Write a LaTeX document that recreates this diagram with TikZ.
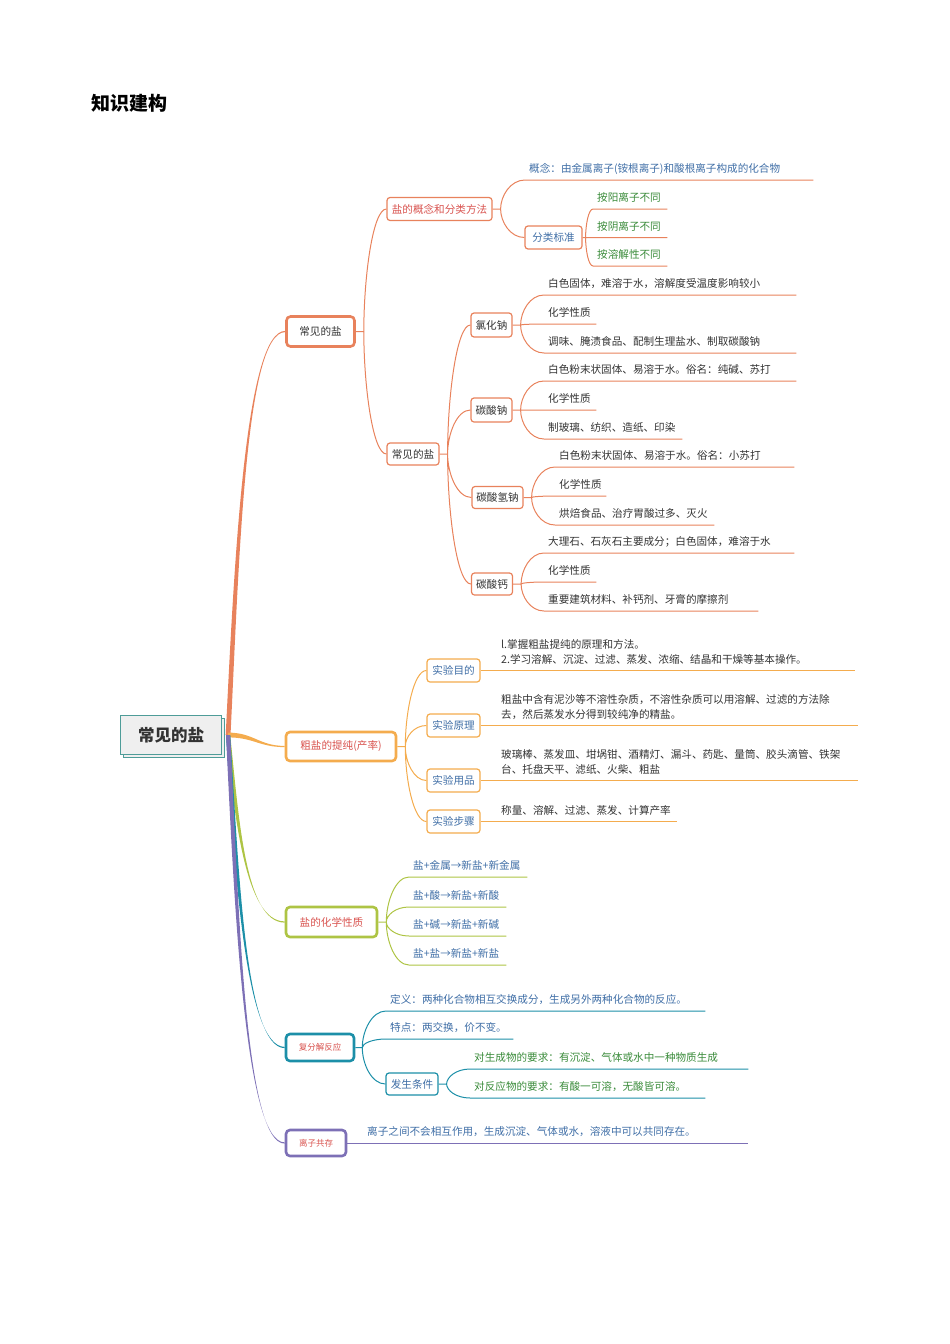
\documentclass[tikz,border=0pt]{standalone}
\usepackage{fontspec}
\setmainfont{Noto Sans CJK SC}
\usetikzlibrary{calc,backgrounds,shadows}
\definecolor{cSal}{HTML}{E8825C}
\definecolor{cOra}{HTML}{F4AC4E}
\definecolor{cGrn}{HTML}{AEC444}
\definecolor{cTea}{HTML}{1C8FA8}
\definecolor{cPur}{HTML}{7D70B6}
\definecolor{tBlue}{HTML}{3F6EA6}
\definecolor{tGreen}{HTML}{3A8B3A}
\definecolor{tRed}{HTML}{D9534F}
\definecolor{tDark}{HTML}{333333}
\definecolor{cRoot}{HTML}{4E9C98}
\definecolor{cRootFill}{HTML}{EFEFEF}
\newcommand\fsz[1]{\fontsize{#1}{15}\selectfont}
\begin{document}
\begin{tikzpicture}[x=1pt,y=-1pt,font=\fsz{10.6},
  lone/.style={draw=#1,line width=2.6pt,rounded corners=4pt,fill=white,inner sep=0pt},
  sbox/.style={draw=#1,line width=1.2pt,rounded corners=3pt,fill=white,inner sep=0pt},
  leaf/.style={anchor=south west,inner xsep=4pt,inner ysep=0pt,text depth=7pt,align=left,text width=#1},
  leaftwo/.style={leaf=#1,text depth=22pt},
  conn/.style={line width=1pt},
  brc/.style={to path={let \p1=(\tikztostart),\p2=(\tikztotarget) in
    .. controls (\x1,{\y1+0.45*(\y2-\y1)}) and ({\x2-0.6*(\x2-\x1)},\y2) .. (\tikztotarget)}},
  rootv/.style={to path={let \p1=(\tikztostart),\p2=(\tikztotarget) in
    (\x1-#1,\y1) .. controls ({\x1+0.15*(\x2-\x1)-#1},{\y1+0.43*(\y2-\y1)}) and ({\x1+0.3*(\x2-\x1)},\y2+0.6pt) .. (\x2,\y2+0.6pt)
    -- (\x2,\y2-0.6pt) .. controls ({\x1+0.3*(\x2-\x1)},\y2-0.6pt) and ({\x1+0.15*(\x2-\x1)+#1},{\y1+0.43*(\y2-\y1)}) .. (\x1+#1,\y1) -- cycle}},
  rooth/.style={to path={let \p1=(\tikztostart),\p2=(\tikztotarget) in
    (\x1,\y1+#1) .. controls ({\x1+0.45*(\x2-\x1)},\y1+#1) and ({\x1+0.55*(\x2-\x1)},\y2+0.6pt) .. (\x2,\y2+0.6pt)
    -- (\x2,\y2-0.6pt) .. controls ({\x1+0.55*(\x2-\x1)},\y2-0.6pt) and ({\x1+0.45*(\x2-\x1)},\y1-#1) .. (\x1,\y1-#1) -- cycle}}
]
\useasboundingbox (0,0) rectangle (950,1344);

% title
\node[anchor=west,font=\fsz{19}\bfseries,text=black,inner sep=0pt] (title) at (91,103) {知识建构};

% root
\node[draw=cRoot,line width=1.2pt,fill=cRootFill,minimum width=101pt,minimum height=39pt,inner sep=0pt,
      font=\fsz{16.5}\bfseries,text=tDark,copy shadow={shadow xshift=3pt,shadow yshift=-3pt}] (root) at (171,735) {常见的盐};

% level 1
\node[lone=cSal,minimum width=68pt,minimum height=30pt,text=tDark] (A) at (320.5,331.5) {常见的盐};
\node[lone=cOra,minimum width=110pt,minimum height=29pt,text=tRed] (B) at (341,746.5) {粗盐的提纯(产率)};
\node[lone=cGrn,minimum width=91pt,minimum height=30pt,text=tRed] (C) at (331.5,922) {盐的化学性质};
\node[lone=cTea,minimum width=68pt,minimum height=27pt,text=tRed,font=\fsz{8.5}] (D) at (320,1047.5) {复分解反应};
\node[lone=cPur,minimum width=60pt,minimum height=26pt,text=tRed,font=\fsz{8.5}] (E) at (316,1143) {离子共存};

% level 2 / 3 boxes
\node[sbox=cSal,minimum width=105pt,minimum height=23pt,text=tRed] (A1) at (439.5,209) {盐的概念和分类方法};
\node[sbox=cSal,minimum width=52pt,minimum height=22pt,text=tDark] (A2) at (413,454) {常见的盐};
\node[sbox=cSal,minimum width=57pt,minimum height=23pt,text=tBlue] (A11) at (553.5,237.5) {分类标准};
\node[sbox=cSal,minimum width=41pt,minimum height=24pt,text=tDark] (N1) at (491.5,325) {氯化钠};
\node[sbox=cSal,minimum width=41pt,minimum height=24pt,text=tDark] (N2) at (491.5,410) {碳酸钠};
\node[sbox=cSal,minimum width=51pt,minimum height=22pt,text=tDark] (N3) at (497.5,497.5) {碳酸氢钠};
\node[sbox=cSal,minimum width=41pt,minimum height=22pt,text=tDark] (N4) at (492,584) {碳酸钙};

\node[sbox=cOra,minimum width=53pt,minimum height=23pt,text=tBlue] (B1) at (453.5,670.5) {实验目的};
\node[sbox=cOra,minimum width=53pt,minimum height=23pt,text=tBlue] (B2) at (453.5,725.5) {实验原理};
\node[sbox=cOra,minimum width=53pt,minimum height=23pt,text=tBlue] (B3) at (453.5,780.5) {实验用品};
\node[sbox=cOra,minimum width=53pt,minimum height=23pt,text=tBlue] (B4) at (453.5,821.5) {实验步骤};

\node[sbox=cTea,minimum width=52pt,minimum height=22pt,text=tBlue] (D3) at (412,1084) {发生条件};

% leaves
\node[leaf=280pt,text=tBlue] (a1) at (525,180) {概念：由金属离子(铵根离子)和酸根离子构成的化合物};
\node[leaf=66pt,text=tGreen] (a2) at (593,209) {按阳离子不同};
\node[leaf=66pt,text=tGreen] (a3) at (593,237.5) {按阴离子不同};
\node[leaf=66pt,text=tGreen] (a4) at (593,266) {按溶解性不同};

\node[leaf=244pt,text=tDark] (n11) at (544,295) {白色固体，难溶于水，溶解度受温度影响较小};
\node[leaf=44pt,text=tDark] (n12) at (544,324) {化学性质};
\node[leaf=244pt,text=tDark] (n13) at (544,353) {调味、腌渍食品、配制生理盐水、制取碳酸钠};
\node[leaf=244pt,text=tDark] (n21) at (544,381) {白色粉末状固体、易溶于水。俗名：纯碱、苏打};
\node[leaf=44pt,text=tDark] (n22) at (544,410) {化学性质};
\node[leaf=130pt,text=tDark] (n23) at (544,439) {制玻璃、纺织、造纸、印染};
\node[leaf=231pt,text=tDark] (n31) at (555,467) {白色粉末状固体、易溶于水。俗名：小苏打};
\node[leaf=43pt,text=tDark] (n32) at (555,496) {化学性质};
\node[leaf=151pt,text=tDark] (n33) at (555,525) {烘焙食品、治疗胃酸过多、灭火};
\node[leaf=242pt,text=tDark] (n41) at (544,553) {大理石、石灰石主要成分；白色固体，难溶于水};
\node[leaf=44pt,text=tDark] (n42) at (544,582) {化学性质};
\node[leaf=206pt,text=tDark] (n43) at (544,611) {重要建筑材料、补钙剂、牙膏的摩擦剂};

\node[leaftwo=350pt,text=tDark] (b1) at (497,670.5) {l.掌握粗盐提纯的原理和方法。\\2.学习溶解、沉淀、过滤、蒸发、浓缩、结晶和干燥等基本操作。};
\node[leaftwo=353pt,text=tDark] (b2) at (497,725.5) {粗盐中含有泥沙等不溶性杂质，不溶性杂质可以用溶解、过滤的方法除\\去，然后蒸发水分得到较纯净的精盐。};
\node[leaftwo=353pt,text=tDark] (b3) at (497,780.5) {玻璃棒、蒸发皿、坩埚钳、酒精灯、漏斗、药匙、量筒、胶头滴管、铁架\\台、托盘天平、滤纸、火柴、粗盐};
\node[leaf=172pt,text=tDark] (b4) at (497,821.5) {称量、溶解、过滤、蒸发、计算产率};

\node[leaf=110pt,text=tBlue] (c1) at (409,877) {盐+金属→新盐+新金属};
\node[leaf=89pt,text=tBlue] (c2) at (409,907) {盐+酸→新盐+新酸};
\node[leaf=89pt,text=tBlue] (c3) at (409,936) {盐+碱→新盐+新碱};
\node[leaf=89pt,text=tBlue] (c4) at (409,965) {盐+盐→新盐+新盐};

\node[leaf=311pt,text=tBlue] (d1) at (386,1011) {定义：两种化合物相互交换成分，生成另外两种化合物的反应。};
\node[leaf=119pt,text=tBlue] (d2) at (386,1039) {特点：两交换，价不变。};
\node[leaf=270pt,text=tGreen] (d31) at (470,1069) {对生成物的要求：有沉淀、气体或水中一种物质生成};
\node[leaf=227pt,text=tGreen] (d32) at (470,1098) {对反应物的要求：有酸一可溶，无酸皆可溶。};

\node[leaf=377pt,text=tBlue] (e1) at (363,1143) {离子之间不会相互作用，生成沉淀、气体或水，溶液中可以共同存在。};

% junction coordinates
\coordinate (ro) at ([xshift=6pt]root.east);
\coordinate (Ak) at ([xshift=8pt]A.east);
\coordinate (A1k) at ([xshift=8pt]A1.east);
\coordinate (A11k) at ([xshift=3pt]A11.east);
\coordinate (A2k) at ([xshift=8pt]A2.east);
\coordinate (N1k) at ([xshift=8pt]N1.east);
\coordinate (N2k) at ([xshift=8pt]N2.east);
\coordinate (N3k) at ([xshift=8pt]N3.east);
\coordinate (N4k) at ([xshift=8pt]N4.east);
\coordinate (Bk) at ([xshift=8pt]B.east);
\coordinate (Ck) at ([xshift=8pt]C.east);
\coordinate (Dk) at ([xshift=7pt]D.east);
\coordinate (D3k) at ([xshift=8pt]D3.east);

\begin{scope}[on background layer]
% root branches (tapered)
\fill[cSal] (ro) to[rootv=2.4pt] (A.west);
\fill[cOra] (ro) to[rooth=2.4pt] (B.west);
\fill[cGrn] (ro) to[rootv=2.1pt] (C.west);
\fill[cTea] (ro) to[rootv=2.1pt] (D.west);
\fill[cPur] (ro) to[rootv=2.1pt] (E.west);

% salmon branch
\draw[cSal,conn] (A.east) -- (Ak) to[brc] (A1.west) (Ak) to[brc] (A2.west);
\draw[cSal,conn] (A1.east) -- (A1k) to[brc] (a1.south west) -- (a1.south east) (A1k) to[brc] (A11.west);
\draw[cSal,conn] (A11.east) -- (A11k) to[brc] (a2.south west) -- (a2.south east)
  (A11k) to[brc] (a3.south west) -- (a3.south east)
  (A11k) to[brc] (a4.south west) -- (a4.south east);
\draw[cSal,conn] (A2.east) -- (A2k) to[brc] (N1.west) (A2k) to[brc] (N2.west) (A2k) to[brc] (N3.west) (A2k) to[brc] (N4.west);
\draw[cSal,conn] (N1.east) -- (N1k) to[brc] (n11.south west) -- (n11.south east)
  (N1k) to[brc] (n12.south west) -- (n12.south east)
  (N1k) to[brc] (n13.south west) -- (n13.south east);
\draw[cSal,conn] (N2.east) -- (N2k) to[brc] (n21.south west) -- (n21.south east)
  (N2k) to[brc] (n22.south west) -- (n22.south east)
  (N2k) to[brc] (n23.south west) -- (n23.south east);
\draw[cSal,conn] (N3.east) -- (N3k) to[brc] (n31.south west) -- (n31.south east)
  (N3k) to[brc] (n32.south west) -- (n32.south east)
  (N3k) to[brc] (n33.south west) -- (n33.south east);
\draw[cSal,conn] (N4.east) -- (N4k) to[brc] (n41.south west) -- (n41.south east)
  (N4k) to[brc] (n42.south west) -- (n42.south east)
  (N4k) to[brc] (n43.south west) -- (n43.south east);

% orange branch
\draw[cOra,conn] (B.east) -- (Bk) to[brc] (B1.west) (Bk) to[brc] (B2.west) (Bk) to[brc] (B3.west) (Bk) to[brc] (B4.west);
\draw[cOra,conn] (B1.east) -- (b1.south west) -- (b1.south east);
\draw[cOra,conn] (B2.east) -- (b2.south west) -- (b2.south east);
\draw[cOra,conn] (B3.east) -- (b3.south west) -- (b3.south east);
\draw[cOra,conn] (B4.east) -- (b4.south west) -- (b4.south east);

% green branch
\draw[cGrn,conn] (C.east) -- (Ck) to[brc] (c1.south west) -- (c1.south east)
  (Ck) to[brc] (c2.south west) -- (c2.south east)
  (Ck) to[brc] (c3.south west) -- (c3.south east)
  (Ck) to[brc] (c4.south west) -- (c4.south east);

% teal branch
\draw[cTea,conn] (D.east) -- (Dk) to[brc] (d1.south west) -- (d1.south east)
  (Dk) to[brc] (d2.south west) -- (d2.south east)
  (Dk) to[brc] (D3.west);
\draw[cTea,conn] (D3.east) -- (D3k) to[brc] (d31.south west) -- (d31.south east)
  (D3k) to[brc] (d32.south west) -- (d32.south east);

% purple branch
\draw[cPur,conn] (E.east) -- (e1.south west) -- (e1.south east);
\end{scope}
\end{tikzpicture}
\end{document}
